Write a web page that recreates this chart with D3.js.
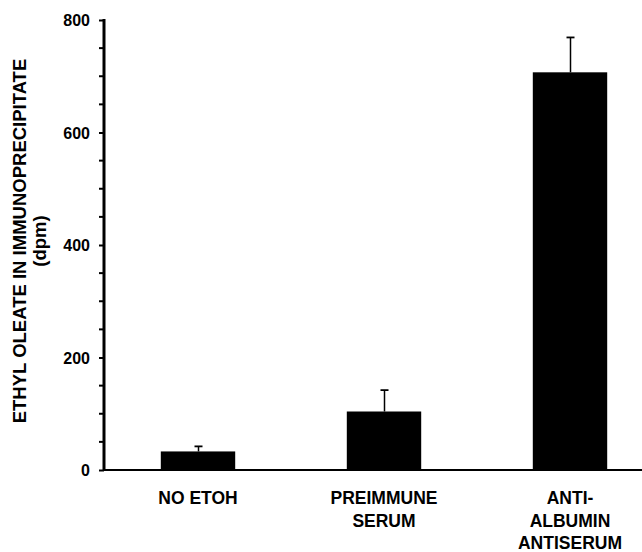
<!DOCTYPE html>
<html>
<head>
<meta charset="utf-8">
<script src="https://cdn.jsdelivr.net/npm/d3@7"></script>
<style>
  body { margin: 0; background: #fff; }
  svg { display: block; }
  text { font-family: "Liberation Sans", Arial, Helvetica, sans-serif; font-weight: bold; fill: #000; }
</style>
</head>
<body>
<svg id="chart" width="642" height="552"></svg>
<script>
// ------ data
var categories = ["NO ETOH", "PREIMMUNE|SERUM", "ANTI-|ALBUMIN|ANTISERUM"];
var values = [33, 104, 707];
var errors = [9, 38, 62];   // upper error bar length (dpm)
var yTicks = [0, 200, 400, 600, 800];
var yTitle = ["ETHYL OLEATE IN IMMUNOPRECIPITATE", "(dpm)"];

// ------ sizes
var width = 642, height = 552;
var axisX = 104, baseY = 470, topY = 20;

var svg = d3.select("#chart");

// ------ scales
var yScale = d3.scaleLinear().domain([0, 800]).range([baseY, topY]);
var xScale = d3.scaleBand()
    .domain(categories)
    .range([105, 663])
    .paddingInner(0.6)
    .paddingOuter(0.3);

// ------ bars
svg.selectAll(".bar")
  .data(values)
  .enter().append("rect")
    .attr("class", "bar")
    .attr("x", function(d, i) { return xScale(categories[i]); })
    .attr("width", xScale.bandwidth())
    .attr("y", function(d) { return yScale(d); })
    .attr("height", function(d) { return yScale(0) - yScale(d); })
    .style("fill", "#000");

// ------ error bars (upper only)
var errG = svg.append("g").attr("class", "errors");
values.forEach(function(v, i) {
  var cx = xScale(categories[i]) + xScale.bandwidth() / 2 + 0.5;
  errG.append("line")
    .attr("x1", cx).attr("x2", cx)
    .attr("y1", yScale(v)).attr("y2", yScale(v + errors[i]))
    .style("stroke", "#000").style("stroke-width", 1.5);
  errG.append("line")
    .attr("x1", cx - 4).attr("x2", cx + 4)
    .attr("y1", yScale(v + errors[i])).attr("y2", yScale(v + errors[i]))
    .style("stroke", "#000").style("stroke-width", 1.8);
});

// ------ x axis line
svg.append("line")
  .attr("x1", axisX).attr("x2", width)
  .attr("y1", baseY).attr("y2", baseY)
  .style("stroke", "#000").style("stroke-width", 2.2);

// ------ y axis
var yAxis = d3.axisLeft(yScale)
  .tickValues(yTicks)
  .tickSize(5)
  .tickPadding(9)
  .tickFormat(d3.format("d"));

var yG = svg.append("g")
  .attr("transform", "translate(" + axisX + ",0)")
  .call(yAxis);
yG.select(".domain").remove();
yG.selectAll(".tick line").style("stroke", "#000").style("stroke-width", 2);
yG.selectAll(".tick text")
  .style("font-size", "16px")
  .style("font-family", "'Liberation Sans', Arial, sans-serif")
  .style("font-weight", "bold")
  .attr("dy", "0.36em");

// minor ticks every 50
svg.append("g")
  .selectAll("line")
  .data(yScale.ticks(16).filter(function(t) { return yTicks.indexOf(t) < 0; }))
  .enter().append("line")
    .attr("x1", axisX - 5).attr("x2", axisX)
    .attr("y1", function(d) { return yScale(d); })
    .attr("y2", function(d) { return yScale(d); })
    .style("stroke", "#000").style("stroke-width", 2);

svg.append("line")
  .attr("x1", axisX).attr("x2", axisX)
  .attr("y1", yScale(800) - 1).attr("y2", baseY + 1)
  .style("stroke", "#000").style("stroke-width", 3);

// ------ category labels
categories.forEach(function(c, i) {
  var cx = xScale(c) + xScale.bandwidth() / 2;
  var t = svg.append("text")
    .attr("text-anchor", "middle")
    .style("font-size", "17.5px");
  c.split("|").forEach(function(line, j) {
    t.append("tspan")
      .attr("x", cx)
      .attr("y", 504 + j * 22.5)
      .text(line);
  });
});

// ------ y title
var yt = svg.append("text")
  .attr("transform", "translate(0," + 241 + ") rotate(-90)")
  .attr("text-anchor", "middle")
  .style("font-size", "18.5px");
yTitle.forEach(function(line, j) {
  yt.append("tspan")
    .attr("x", 0)
    .attr("y", 26 + j * 20)
    .text(line);
});
</script>
</body>
</html>
